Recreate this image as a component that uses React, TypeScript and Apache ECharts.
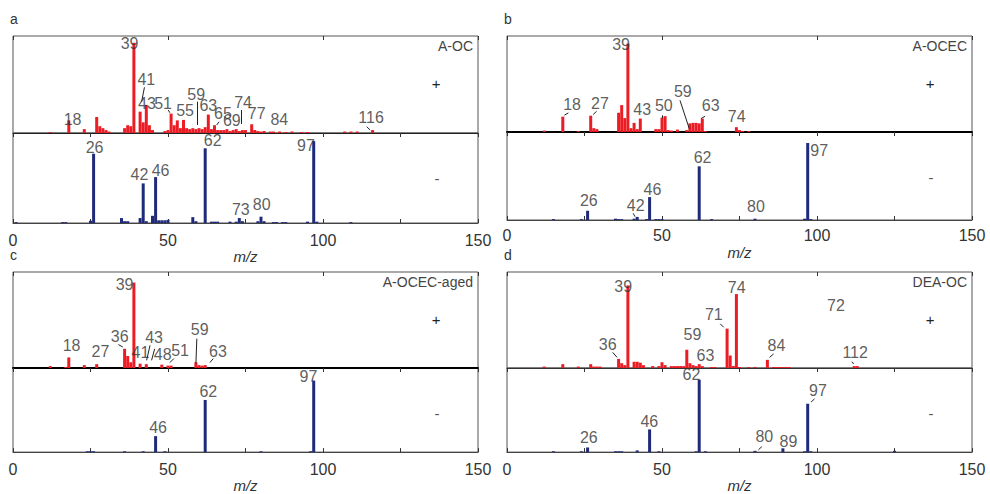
import React, { useEffect, useRef } from 'react';
import * as echarts from 'echarts';

// ---------- data (m/z, relative intensity %) ----------
const mzTickLabels = [0, 50, 100, 150];

const aPos = [[12,1],[18,13],[23,4],[27,16.5],[28,7],[29,5],[30,3],[31,1.5],[36,5],[37,8],[38,7],[39,93],[41,22],[42,11],[43,29],[44,8],[45,3],[49,2],[50,3],[51,20],[52,8],[53,13],[54,5],[55,13.5],[56,5],[57,4],[58,5],[59,4],[60,5],[61,4],[62,6],[63,19],[64,4],[65,8],[66,3],[67,3],[68,3],[69,4],[70,2],[71,3],[72,4],[73,2],[74,3],[75,3],[77,9],[78,3],[79,2],[80,1.5],[81,2],[83,1.5],[84,1.5],[86,1.5],[88,1],[90,1.5],[93,1],[95,1],[107,1.5],[109,1.5],[111,1.5],[116,3]];
const aNeg = [[1,1],[16,1],[17,1],[25,2.5],[26,77],[35,5.5],[36,2],[37,2],[41,5.5],[42,44],[43,2],[45,8],[46,51],[47,3],[48,3],[49,3],[50,3.5],[58,6.5],[59,2],[62,83],[64,1.5],[65,1.5],[66,1.5],[70,1.5],[72,1.5],[73,5.5],[74,2],[79,2],[80,7],[81,2],[84,1],[85,1],[87,1],[88,1],[95,1.5],[97,91],[98,1.5],[109,1]];
const bPos = [[12,1.5],[18,16],[23,1],[27,17],[28,4],[29,3],[36,20],[37,28],[38,14.5],[39,92],[40,4],[41,9.5],[42,3],[43,14],[48,3],[49,3],[50,15],[51,16.5],[52,2],[53,1.5],[55,2.5],[58,2],[59,9],[60,9.5],[61,9.5],[62,9],[63,14],[64,1],[74,5],[75,2],[76,1],[78,1]];
const bNeg = [[15,1],[24,1],[26,10.5],[35,1.5],[36,1],[37,1],[41,1.5],[42,3.5],[45,1],[46,26],[48,1],[49,1],[50,1],[62,61],[66,1],[80,1.5],[96,1.5],[97,87.5],[98,1]];
const cPos = [[12,2],[17,1],[18,11],[23,3],[27,4],[36,20],[37,12.5],[38,6],[39,89],[41,4.5],[43,4],[48,3.5],[50,2.5],[51,2.5],[59,6],[60,3],[61,2.5],[62,3]];
const cNeg = [[24,1],[25,1],[26,1],[36,1],[42,1],[46,19],[49,1],[62,62],[80,1],[96,1],[97,85]];
const dPos = [[12,1.5],[18,4],[23,1.5],[27,4],[28,1.5],[29,1.5],[30,1.5],[36,9.5],[37,5],[38,3],[39,86],[41,6.5],[42,6.5],[43,5.5],[44,3],[47,2],[49,2],[50,6],[51,3],[53,2],[54,2],[55,2],[56,2],[57,2],[58,19],[59,5],[60,3],[61,2],[62,4],[63,2],[66,1],[67,1],[71,41],[72,13],[73,2],[74,77],[75,1],[78,1],[80,1],[84,8.5],[86,1],[87,1],[88,1],[89,1],[90,1],[91,1],[112,2],[113,2]];
const dNeg = [[15,1],[24,1],[26,5.5],[35,1],[36,1],[37,1],[42,2],[46,27],[49,1],[61,1],[62,86],[64,1],[80,1.5],[89,4.5],[96,1],[97,57.5],[98,1],[125,1.5]];

// peak labels: [m/z, intensity, text]
const aPosLabels = [[19.2,14.1,'18'],[37.6,91.8,'39'],[43,55.2,'41'],[43.2,29.9,'43'],[48.4,29.9,'51'],[55.5,22.9,'55'],[59.1,40,'59'],[63,28,'63'],[67.7,20.6,'65'],[70.6,12.4,'69'],[74.2,31.4,'74'],[78.6,19.9,'77'],[85.9,13.7,'84'],[115.5,16,'116']];
const aNegLabels = [[26.3,83.9,'26'],[40.8,54.2,'42'],[47.6,58.3,'46'],[64.4,91.3,'62'],[73.5,15.3,'73'],[80.2,20.6,'80'],[94.5,85.8,'97']];
const bPosLabels = [[21,28.7,'18'],[30,29.7,'27'],[36.8,91.4,'39'],[43.6,23.9,'43'],[50.6,27.4,'50'],[56.7,42.7,'59'],[65.7,27.6,'63'],[74.1,15.7,'74']];
const bNegLabels = [[26.4,22.5,'26'],[41.5,16.7,'42'],[46.9,35,'46'],[63.1,71,'62'],[80.3,15.1,'80'],[100.7,78.6,'97']];
const cPosLabels = [[18.9,23.6,'18'],[28.2,17.6,'27'],[34.4,33.2,'36'],[36,87,'39'],[41.1,15.8,'41'],[45.5,32.2,'43'],[48.3,14.5,'48'],[53.9,18.4,'51'],[60.2,40.6,'59'],[66.1,17,'63']];
const cNegLabels = [[46.8,29.4,'46'],[63,72.1,'62'],[95.3,90.4,'97']];
const dPosLabels = [[32.5,24.1,'36'],[37.5,85.2,'39'],[59.8,35,'59'],[64,12.9,'63'],[66.7,55.9,'71'],[74.1,83.7,'74'],[86.9,23.3,'84'],[106.1,65.4,'72'],[112.3,15.8,'112']];
const dNegLabels = [[26.4,16.9,'26'],[45.9,35.8,'46'],[59.5,92.6,'62'],[83,18.4,'80'],[90.8,12.5,'89'],[100.3,73.2,'97']];

// leader lines: [m/z1, int1, m/z2, int2]
const aPosLeaders = [[42.4,47.1,41.5,32.3],[50.1,23.7,50.6,20.9],[59.3,32.3,59.3,8.2],[66.5,11.6,65.7,8.2],[73.5,23.7,73.5,9.3],[114.1,6.5,115.2,3.1]];
const aNegLeaders = [];
const bPosLeaders = [[18.5,17.5,19.8,19.9],[27.8,18.2,28.9,21.6],[50.1,17.4,50.1,14.3],[55.8,33,58.8,3.5],[63.9,16.4,62.6,14]];
const bNegLeaders = [[40.7,7.6,41.3,3.75]];
const cPosLeaders = [[34,24.4,35.4,21.9],[44.2,23.6,43.1,8],[45.7,20,44.7,8],[51.9,9.8,50.6,5.6],[59.3,30.6,59,4.6],[64.6,9.8,63.5,5.6]];
const cNegLeaders = [];
const dPosLeaders = [[34.1,16.3,35.5,11.1],[68.8,46,69.9,42.4],[86,14.6,84.7,11.1],[111.3,6.6,111.8,4.2]];
const dNegLeaders = [[82.2,6.5,81.1,2.7],[99.2,63.3,98.1,59.5]];

const panelNames = ['A-OC', 'A-OCEC', 'A-OCEC-aged', 'DEA-OC'];
const panelLetters = ['a', 'b', 'c', 'd'];

const POS_COLOR = '#ec1c24';
const NEG_COLOR = '#1f2a7a';
const TXT = '#333';
const FONT = '"Liberation Sans", Arial, sans-serif';

const App: React.FC = () => {
  const ref = useRef<HTMLDivElement>(null);
  useEffect(() => {
    if (!ref.current) return;
    const chart = echarts.init(ref.current, undefined, { renderer: 'svg' });

    const grids = [
      { left: 13, top: 36, width: 465, height: 97 },
      { left: 13, top: 133, width: 465, height: 90 },
      { left: 507, top: 36, width: 465, height: 96 },
      { left: 507, top: 132, width: 465, height: 88 },
      { left: 13, top: 272, width: 465, height: 96 },
      { left: 13, top: 368, width: 465, height: 89 },
      { left: 507, top: 272, width: 465, height: 96 },
      { left: 507, top: 368, width: 465, height: 88 },
    ];
    const midStyle = [
      { color: '#222', width: 1.2 },
      { color: '#000', width: 2 },
      { color: '#000', width: 2 },
      { color: '#333', width: 1 },
    ];
    const labelGap = [9, 7, 9, 9];
    const nameGaps = [24, 25, 23, 24];

    const datasets = [aPos, aNeg, bPos, bNeg, cPos, cNeg, dPos, dNeg];
    const labels = [aPosLabels, aNegLabels, bPosLabels, bNegLabels, cPosLabels, cNegLabels, dPosLabels, dNegLabels];
    const leaders = [aPosLeaders, aNegLeaders, bPosLeaders, bNegLeaders, cPosLeaders, cNegLeaders, dPosLeaders, dNegLeaders];

    const xAxis: any[] = [];
    const yAxis: any[] = [];
    grids.forEach((g, i) => {
      const isTop = i % 2 === 0;
      const p = Math.floor(i / 2);
      if (isTop) {
        xAxis.push({
          gridIndex: i, type: 'value', min: 0, max: 150, interval: 25, position: 'bottom',
          axisLine: { show: true, lineStyle: midStyle[p] },
          axisTick: { show: true, inside: false, length: 4, lineStyle: { color: '#333' } },
          axisLabel: { show: false }, splitLine: { show: false },
        });
      } else {
        xAxis.push({
          gridIndex: i, type: 'value', min: 0, max: 150, interval: 25, position: 'bottom',
          axisLine: { show: true, lineStyle: { color: '#444', width: 1 } },
          axisTick: { show: true, inside: true, length: 4, lineStyle: { color: '#333' } },
          axisLabel: {
            show: true, fontSize: 16, color: TXT, fontFamily: FONT, margin: labelGap[p],
            formatter: (v: number) => (mzTickLabels.includes(v) ? String(v) : ''),
          },
          splitLine: { show: false },
          name: 'm/z', nameLocation: 'middle', nameGap: nameGaps[p],
          nameTextStyle: { fontStyle: 'italic', fontSize: 15, color: TXT, fontFamily: FONT },
        });
      }
      yAxis.push({ gridIndex: i, type: 'value', min: 0, max: 100, show: false });
    });
    // extra top-edge tick axes for the positive grids
    [0, 2, 4, 6].forEach((gi) => {
      xAxis.push({
        gridIndex: gi, type: 'value', min: 0, max: 150, interval: 50, position: 'top',
        axisLine: { show: false },
        axisTick: { show: true, inside: true, length: 4, lineStyle: { color: '#333' } },
        axisLabel: { show: false }, splitLine: { show: false },
      });
    });

    const series: any[] = [];
    grids.forEach((g, i) => {
      const isTop = i % 2 === 0;
      series.push({
        type: 'bar', xAxisIndex: i, yAxisIndex: i, data: datasets[i],
        barWidth: 3, itemStyle: { color: isTop ? POS_COLOR : NEG_COLOR }, silent: true, z: 2,
      });
      series.push({
        type: 'scatter', xAxisIndex: i, yAxisIndex: i, symbolSize: 1,
        itemStyle: { color: 'rgba(0,0,0,0)' }, silent: true, z: 5, clip: false,
        data: labels[i].map((l: any) => ({ value: [l[0], l[1]], name: l[2] })),
        label: {
          show: true, position: 'inside', formatter: (pp: any) => pp.name,
          fontSize: 16, color: TXT, fontFamily: FONT,
        },
        markLine: {
          silent: true, symbol: ['none', 'none'], label: { show: false },
          lineStyle: { color: '#222', width: 1, type: 'solid' },
          data: leaders[i].map((l: any) => [{ coord: [l[0], l[1]] }, { coord: [l[2], l[3]] }]),
        },
      });
    });

    const graphic: any[] = [];
    grids.forEach((g, i) => {
      if (i % 2 !== 0) return;
      const p = i / 2;
      const right = g.left + g.width;
      graphic.push({
        type: 'text', left: g.left - 3, top: g.top - 24,
        style: { text: panelLetters[p], fontSize: 14, fill: TXT, fontFamily: FONT },
      });
      graphic.push({
        type: 'text', right: 990 - right + 5, top: g.top + 3,
        style: { text: panelNames[p], fontSize: 14, fill: '#444', fontFamily: FONT },
      });
      graphic.push({
        type: 'text', x: right - 42, y: g.top + 47,
        style: { text: '+', fontSize: 15, fill: '#222', fontFamily: FONT, align: 'center', verticalAlign: 'middle' },
      });
      graphic.push({
        type: 'text', x: right - 41, y: g.top + g.height + 45,
        style: { text: '-', fontSize: 15, fill: '#555', fontFamily: FONT, align: 'center', verticalAlign: 'middle' },
      });
    });

    chart.setOption({
      animation: false,
      backgroundColor: '#fff',
      grid: grids.map((g) => ({ ...g, show: true, borderColor: '#555', borderWidth: 1, backgroundColor: 'transparent' })),
      xAxis, yAxis, series, graphic,
    });
    return () => chart.dispose();
  }, []);
  return <div ref={ref} style={{ position: 'fixed', left: 0, top: 0, width: 990, height: 494 }} />;
};

export default App;
